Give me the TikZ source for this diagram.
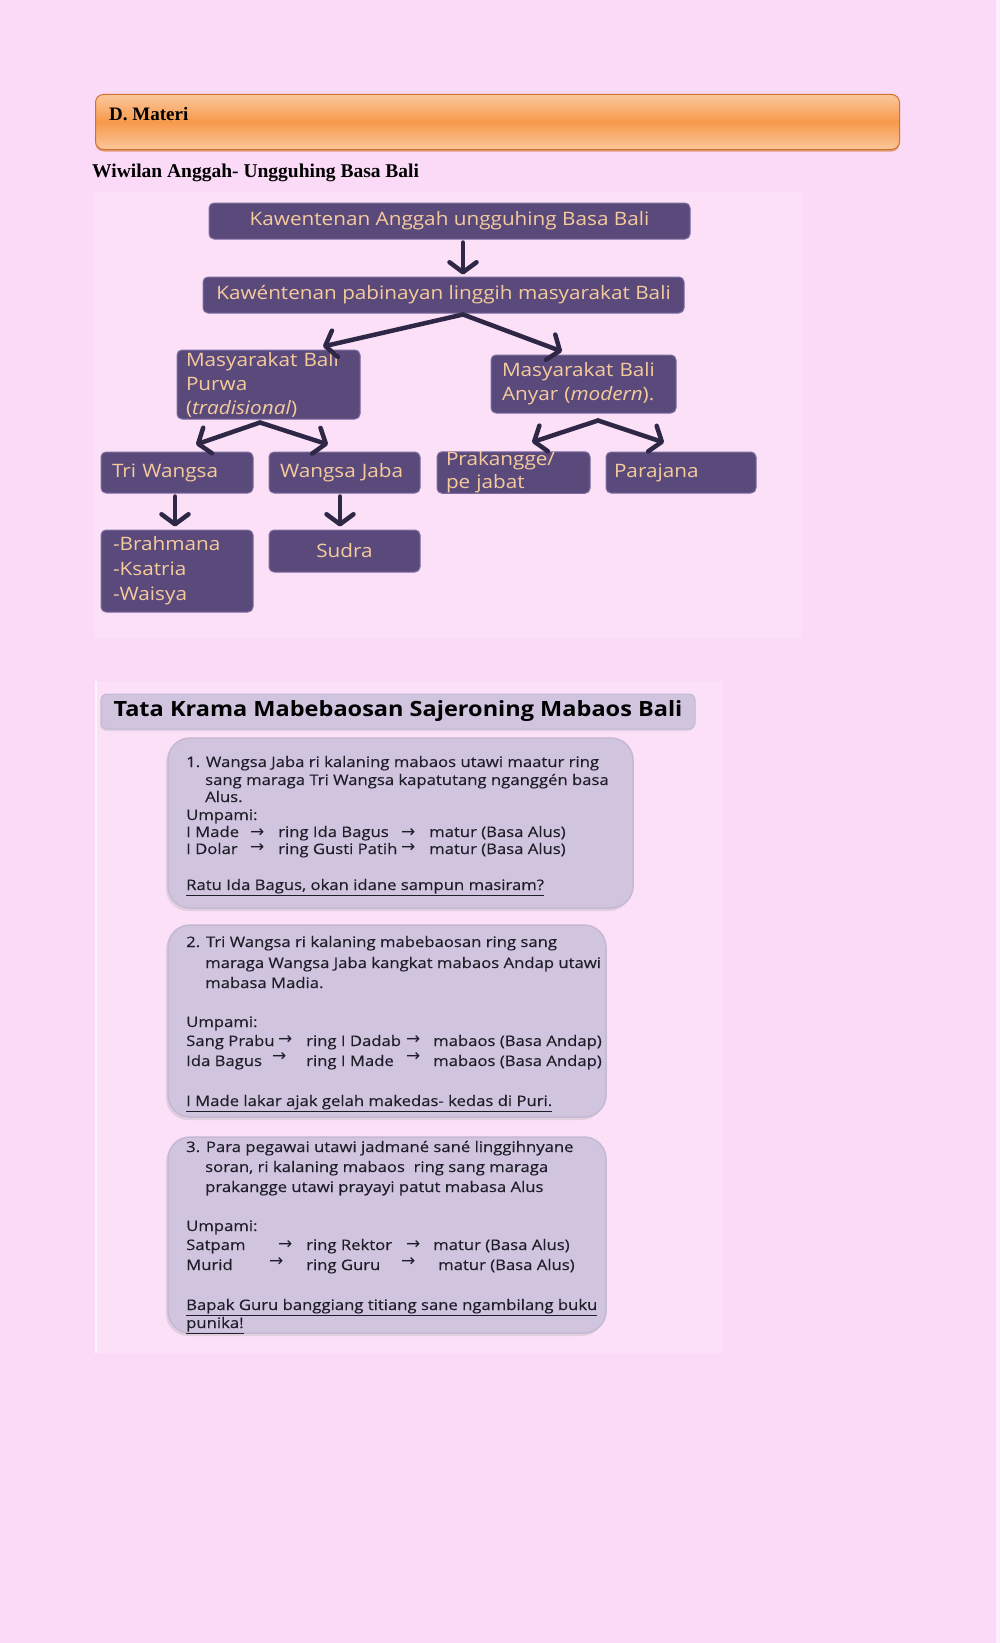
\documentclass[tikz,border=0pt]{standalone}
\usepackage{fontspec}
\setmainfont{Liberation Serif}
\newfontfamily\comic[FakeStretch=1.12]{Open Sans}
\newfontfamily\comicw[FakeStretch=1.15,FakeBold=0.3]{Open Sans}
\newfontfamily\djv{DejaVu Sans}
\usetikzlibrary{arrows.meta,shadows}
\definecolor{bgpink}{HTML}{FADAF7}
\definecolor{bgpale}{HTML}{FBE0F8}
\definecolor{dpurple}{HTML}{5A4A7C}
\definecolor{dedge}{HTML}{7C6C9E}
\definecolor{peach}{HTML}{F6CB9C}
\definecolor{arrowc}{HTML}{2E2746}
\definecolor{lav}{HTML}{D0C4DE}
\definecolor{lavedge}{HTML}{C4B8D2}
\definecolor{orangeM}{HTML}{F7994B}
\definecolor{orangeL}{HTML}{FBC79B}
\definecolor{orangeD}{HTML}{D0712A}
\definecolor{txt}{HTML}{1E1E28}
\newcommand{\ra}{{\djv\fontsize{17}{17}\selectfont →}}
\begin{document}
\begin{tikzpicture}[x=1pt,y=-1pt,
  dbox/.style={fill=dpurple, draw=dedge, line width=1pt, rounded corners=5pt, text=peach,
    font=\comic\fontsize{18.5}{24}\selectfont, inner ysep=0pt, inner xsep=10pt, align=left},
  arr/.style={draw=arrowc, line width=4.5pt, line cap=round, line join=round,
    -{Straight Barb[length=10pt,width=27pt,round]}},
  lbox/.style={fill=lav, draw=lavedge, line width=1.5pt, rounded corners=22pt,
    drop shadow={shadow xshift=-2pt, shadow yshift=-3pt, fill=black!30, opacity=0.35}},
  tx/.style={anchor=base west, inner sep=0pt, font=\comicw\fontsize{14.5}{17}\selectfont, text=txt},
  ttl/.style={anchor=base west, inner sep=0pt, font=\bfseries\fontsize{19.5}{22}\selectfont, text=black}
]
\fill[bgpink] (0,0) rectangle (1000,1643);
\fill[white!60!bgpink] (996,0) rectangle (1000,1643);
\useasboundingbox (0,0) rectangle (1000,1643);

% header bar
\node[draw=orangeD, line width=1pt, rounded corners=8pt, top color=orangeL, bottom color=orangeL,
  middle color=orangeM, minimum width=804pt, minimum height=55pt, anchor=north west,
  drop shadow={shadow xshift=0pt, shadow yshift=-2pt, fill=orangeD, opacity=0.6}] (bar) at (95,94) {};
\node[ttl, font=\bfseries\fontsize{19}{22}\selectfont] (dmat) at (109,121) {D. Materi};
\node[ttl] (wiw) at (92,177) {Wiwilan Anggah- Ungguhing Basa Bali};

% diagram area
\fill[bgpale] (94,192) rectangle (802,639);
\node[dbox, align=center, minimum width=481pt, minimum height=36pt] (b1) at (449.5,221)
  {Kawentenan Anggah ungguhing Basa Bali};
\node[dbox, align=center, minimum width=481pt, minimum height=36pt] (b2) at (443.5,295)
  {Kawéntenan pabinayan linggih masyarakat Bali};
\node[dbox, text width=165pt, inner xsep=9pt, minimum height=69pt] (purwa) at (268.5,384.5)
  {Masyarakat Bali\\Purwa\\(\textit{tradisional})};
\node[dbox, text width=163pt, inner xsep=11pt, minimum height=58pt] (anyar) at (583.5,384)
  {Masyarakat Bali\\Anyar (\textit{modern}).};
\node[dbox, text width=130pt, inner xsep=11pt, minimum height=41pt] (tw) at (177,472.5) {Tri Wangsa};
\node[dbox, text width=129pt, inner xsep=11pt, minimum height=41pt] (wj) at (344.5,472.5) {Wangsa Jaba};
\node[dbox, text width=135pt, inner xsep=9pt, minimum height=41pt, font=\comic\fontsize{18.5}{23}\selectfont] (prak) at (513.5,472.5) {Prakangge/\\pe jabat};
\node[dbox, text width=134pt, inner xsep=8pt, minimum height=41pt] (para) at (681,472.5) {Parajana};
\node[dbox, text width=128pt, inner xsep=12pt, minimum height=82pt, font=\comic\fontsize{18.5}{25}\selectfont] (brah) at (177,571) {-Brahmana\\-Ksatria\\-Waisya};
\node[dbox, align=center, minimum width=151pt, minimum height=42pt] (sudra) at (344.5,551) {Sudra};

\draw[arr] ([xshift=13.5pt,yshift=-3pt]b1.south) -- ([xshift=19.5pt,yshift=2pt]b2.north);
\coordinate (apx1) at ([xshift=19.5pt,yshift=-1pt]b2.south);
\draw[arr] (apx1) -- ([xshift=54.5pt,yshift=3pt]purwa.north);
\draw[arr] (apx1) -- ([xshift=-21.5pt,yshift=3pt]anyar.north);
\coordinate (apx2) at ([xshift=-8.5pt,yshift=-3pt]purwa.south);
\draw[arr] (apx2) -- ([xshift=19pt,yshift=7pt]tw.north);
\draw[arr] (apx2) -- ([xshift=-16.5pt,yshift=7pt]wj.north);
\coordinate (apx3) at ([xshift=14.5pt,yshift=-7pt]anyar.south);
\draw[arr] (apx3) -- ([xshift=18.5pt,yshift=9pt]prak.north);
\draw[arr] (apx3) -- ([xshift=-17pt,yshift=9pt]para.north);
\draw[arr] ([xshift=-2pt,yshift=-3pt]tw.south) -- ([xshift=-2pt,yshift=3pt]brah.north);
\draw[arr] ([xshift=-4.5pt,yshift=-3pt]wj.south) -- ([xshift=-4.5pt,yshift=3pt]sudra.north);

% lower area
\fill[bgpale] (97,681) rectangle (723,1353);
\draw[white!70!bgpink, line width=2pt] (96,681) -- (96,1353);
\node[fill=lav, draw=lavedge, line width=1pt, rounded corners=6pt, minimum width=594pt, minimum height=35pt,
  drop shadow={shadow xshift=-1pt, shadow yshift=-2pt, fill=black!30, opacity=0.3},
  font=\comic\bfseries\fontsize{21}{22}\selectfont, text=black] (title) at (398,711.5)
  {Tata Krama Mabebaosan Sajeroning Mabaos Bali};

\path[lbox] (168,738) rectangle (633,908);
\path[lbox] (168,925) rectangle (606,1117);
\path[lbox] (168,1137) rectangle (606,1333);

% box 1
\node[tx] (a1) at (186,767) {1. Wangsa Jaba ri kalaning mabaos utawi maatur ring};
\node[tx] (a2) at (205,785) {sang maraga Tri Wangsa kapatutang nganggén basa};
\node[tx] (a3) at (205,802) {Alus.};
\node[tx] (a4) at (186,820) {Umpami:};
\node[tx] (a5a) at (186,837) {I Made};
\node[tx] (a5b) at (250,837) {\ra};
\node[tx] (a5c) at (278,837) {ring Ida Bagus};
\node[tx] (a5d) at (401,837) {\ra};
\node[tx] (a5e) at (429,837) {matur (Basa Alus)};
\node[tx] (a6a) at (186,854) {I Dolar};
\node[tx] (a6b) at (250,852) {\ra};
\node[tx] (a6c) at (278,854) {ring Gusti Patih};
\node[tx] (a6d) at (401,852) {\ra};
\node[tx] (a6e) at (429,854) {matur (Basa Alus)};
\node[tx] (a7) at (186,890) {\underline{Ratu Ida Bagus, okan idane sampun masiram?}};

% box 2
\node[tx] (c1) at (186,947) {2. Tri Wangsa ri kalaning mabebaosan ring sang};
\node[tx] (c2) at (205,968) {maraga Wangsa Jaba kangkat mabaos Andap utawi};
\node[tx] (c3) at (205,988) {mabasa Madia.};
\node[tx] (c4) at (186,1027) {Umpami:};
\node[tx] (c5a) at (186,1046) {Sang Prabu};
\node[tx] (c5b) at (278,1044) {\ra};
\node[tx] (c5c) at (306,1046) {ring I Dadab};
\node[tx] (c5d) at (406,1044) {\ra};
\node[tx] (c5e) at (433,1046) {mabaos (Basa Andap)};
\node[tx] (c6a) at (186,1066) {Ida Bagus};
\node[tx] (c6b) at (272,1061) {\ra};
\node[tx] (c6c) at (306,1066) {ring I Made};
\node[tx] (c6d) at (406,1061) {\ra};
\node[tx] (c6e) at (433,1066) {mabaos (Basa Andap)};
\node[tx] (c7) at (186,1106) {\underline{I Made lakar ajak gelah makedas- kedas di Puri.}};

% box 3
\node[tx] (e1) at (186,1152) {3. Para pegawai utawi jadmané sané linggihnyane};
\node[tx] (e2) at (205,1172) {soran, ri kalaning mabaos\ \ ring sang maraga};
\node[tx] (e3) at (205,1192) {prakangge utawi prayayi patut mabasa Alus};
\node[tx] (e4) at (186,1231) {Umpami:};
\node[tx] (e5a) at (186,1250) {Satpam};
\node[tx] (e5b) at (278,1249) {\ra};
\node[tx] (e5c) at (306,1250) {ring Rektor};
\node[tx] (e5d) at (406,1249) {\ra};
\node[tx] (e5e) at (433,1250) {matur (Basa Alus)};
\node[tx] (e6a) at (186,1270) {Murid};
\node[tx] (e6b) at (269,1266) {\ra};
\node[tx] (e6c) at (306,1270) {ring Guru};
\node[tx] (e6d) at (401,1266) {\ra};
\node[tx] (e6e) at (438,1270) {matur (Basa Alus)};
\node[tx] (e7) at (186,1310) {\underline{Bapak Guru banggiang titiang sane ngambilang buku}};
\node[tx] (e8) at (186,1328) {\underline{punika!}};
\end{tikzpicture}
\end{document}
